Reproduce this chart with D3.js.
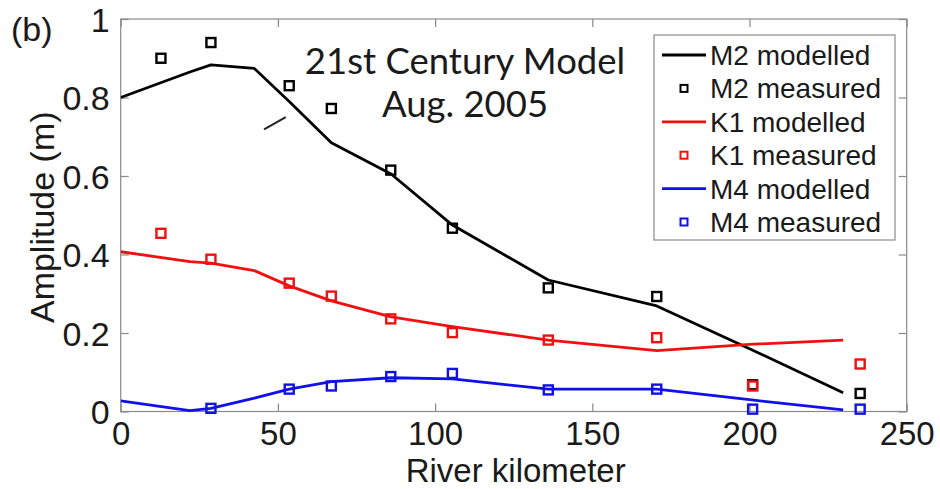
<!DOCTYPE html>
<html>
<head>
<meta charset="utf-8">
<script src="https://cdn.jsdelivr.net/npm/d3@7"></script>
<style>
  html, body { margin: 0; padding: 0; background: #fff; }
  svg { display: block; }
  text { font-family: "Liberation Sans", Arial, sans-serif; fill: #1a1a1a; }
</style>
</head>
<body>
<svg id="chart" width="940" height="489"></svg>
<script>
// River kilometre positions of the model output and of the gauges
const modelKm = [0, 22, 28.7, 42.5, 53.6, 67, 86, 105.5, 136, 170.5, 200, 229.8];
const gaugeKm = [12.8, 28.7, 53.6, 67, 85.9, 105.5, 136, 170.5, 201, 235.2];

// Tidal constituent amplitudes (m)
const m2Modelled = [0.800, 0.865, 0.883, 0.874, 0.790, 0.685, 0.605, 0.475, 0.335, 0.269, 0.160, 0.048];
const k1Modelled = [0.407, 0.382, 0.378, 0.359, 0.320, 0.282, 0.241, 0.216, 0.182, 0.155, 0.171, 0.182];
const m4Modelled = [0.027, 0.002, 0.008, 0.034, 0.057, 0.076, 0.086, 0.083, 0.057, 0.057, 0.030, 0.004];

const m2Measured = [0.900, 0.940, 0.830, 0.772, 0.615, 0.467, 0.315, 0.293, 0.068, 0.046];
const k1Measured = [0.454, 0.388, 0.327, 0.294, 0.236, 0.201, 0.182, 0.188, 0.065, 0.121];
const m4Measured = [null, 0.008, 0.057, 0.065, 0.089, 0.097, 0.055, 0.057, 0.006, 0.006];

const xTicks = [0, 50, 100, 150, 200, 250];
const yTicks = [0, 0.2, 0.4, 0.6, 0.8, 1];

const seriesInfo = [
  { name: "M2", color: "#000000", modelled: m2Modelled, measured: m2Measured },
  { name: "K1", color: "#f01010", modelled: k1Modelled, measured: k1Measured },
  { name: "M4", color: "#1010e8", modelled: m4Modelled, measured: m4Measured }
];

const svg = d3.select("#chart");
const plot = { left: 120.7, right: 906.7, top: 19, bottom: 411.5 };

const x = d3.scaleLinear().domain([0, 250]).range([plot.left, plot.right]);
const y = d3.scaleLinear().domain([0, 1]).range([plot.bottom, plot.top]);

const axisColor = "#8a8a8a";
const tickLen = 8;

// Plot box
svg.append("rect")
  .attr("x", plot.left).attr("y", plot.top)
  .attr("width", plot.right - plot.left).attr("height", plot.bottom - plot.top)
  .attr("fill", "none").attr("stroke", axisColor).attr("stroke-width", 1.2);

// Axes with inward ticks on all four sides
function styleAxis(g) {
  g.select(".domain").remove();
  g.selectAll(".tick line").attr("stroke", axisColor).attr("stroke-width", 1.2);
  g.selectAll(".tick text").attr("fill", "#1a1a1a")
    .style("font-family", "'Liberation Sans', Arial, sans-serif");
}

svg.append("g").attr("transform", `translate(0,${plot.bottom})`)
  .call(d3.axisBottom(x).tickValues(xTicks).tickFormat(d3.format("d"))
    .tickSizeInner(-tickLen).tickSizeOuter(0).tickPadding(0))
  .call(styleAxis)
  .call(g => g.selectAll(".tick text").style("font-size", "33px")
    .attr("dy", null).attr("y", 33.5));

svg.append("g").attr("transform", `translate(0,${plot.top})`)
  .call(d3.axisTop(x).tickValues(xTicks).tickFormat("").tickSizeInner(-tickLen).tickSizeOuter(0))
  .call(styleAxis);

svg.append("g").attr("transform", `translate(${plot.left},0)`)
  .call(d3.axisLeft(y).tickValues(yTicks).tickFormat(d => d === 0 || d === 1 ? d3.format("d")(d) : d3.format(".1f")(d))
    .tickSizeInner(-tickLen).tickSizeOuter(0).tickPadding(tickLen + 3))
  .call(styleAxis)
  .call(g => g.selectAll(".tick text").style("font-size", "34px").attr("dy", "0.36em"));

svg.append("g").attr("transform", `translate(${plot.right},0)`)
  .call(d3.axisRight(y).tickValues(yTicks).tickFormat("").tickSizeInner(-tickLen).tickSizeOuter(0))
  .call(styleAxis);

// Axis titles and panel label
svg.append("text")
  .attr("x", (plot.left + plot.right) / 2 + 2).attr("y", 482)
  .attr("text-anchor", "middle").style("font-size", "33px")
  .text("River kilometer");

svg.append("text")
  .attr("transform", `translate(54,${(plot.top + plot.bottom) / 2 + 2}) rotate(-90)`)
  .attr("text-anchor", "middle").style("font-size", "34px")
  .text("Amplitude (m)");

svg.append("text")
  .attr("x", 11).attr("y", 41).style("font-size", "34px")
  .text("(b)");

// Model run annotation
const note = svg.append("text")
  .attr("text-anchor", "middle")
  .style("font-family", "Lato, 'Open Sans', sans-serif")
  .style("font-size", "36.5px");
note.append("tspan").attr("x", 465).attr("y", 73.5).text("21st Century Model");
note.append("tspan").attr("x", 465).attr("y", 117).text("Aug. 2005");

// Small stray stroke near the M2 curve
svg.append("line")
  .attr("x1", x(45.6)).attr("y1", y(0.719))
  .attr("x2", x(52.5)).attr("y2", y(0.750))
  .attr("stroke", "#222").attr("stroke-width", 2);

svg.append("defs").append("clipPath").attr("id", "plotClip")
  .append("rect").attr("x", plot.left).attr("y", plot.top - 10)
  .attr("width", plot.right - plot.left).attr("height", plot.bottom - plot.top + 20);

const line = d3.line().x(d => x(d[0])).y(d => y(d[1]));
const sq = 9;

const layer = svg.append("g").attr("clip-path", "url(#plotClip)");

seriesInfo.forEach(s => {
  const pts = modelKm.map((k, i) => [k, s.modelled[i]]);
  layer.append("path")
    .attr("d", line(pts))
    .attr("fill", "none")
    .attr("stroke", s.color)
    .attr("stroke-width", 2.8)
    .attr("stroke-linejoin", "round");
});

seriesInfo.forEach(s => {
  const pts = gaugeKm.map((k, i) => [k, s.measured[i]]).filter(d => d[1] != null);
  layer.selectAll(null).data(pts).enter().append("rect")
    .attr("x", d => x(d[0]) - sq / 2)
    .attr("y", d => y(d[1]) - sq / 2)
    .attr("width", sq).attr("height", sq)
    .attr("fill", "none")
    .attr("stroke", s.color)
    .attr("stroke-width", 2.4);
});

// Legend
const legend = svg.append("g");
legend.append("rect")
  .attr("x", 654).attr("y", 35).attr("width", 241).attr("height", 205)
  .attr("fill", "#fff").attr("stroke", axisColor).attr("stroke-width", 1.2);

const legendRows = [];
seriesInfo.forEach(s => {
  legendRows.push({ label: `${s.name} modelled`, color: s.color, kind: "line" });
  legendRows.push({ label: `${s.name} measured`, color: s.color, kind: "marker" });
});

const rowY = d3.scaleLinear().domain([0, legendRows.length - 1]).range([55, 222]);

legendRows.forEach((r, i) => {
  const cy = rowY(i);
  if (r.kind === "line") {
    legend.append("line")
      .attr("x1", 662).attr("x2", 706).attr("y1", cy).attr("y2", cy)
      .attr("stroke", r.color).attr("stroke-width", 2.8);
  } else {
    legend.append("rect")
      .attr("x", 684 - 3.5).attr("y", cy - 3.5).attr("width", 7).attr("height", 7)
      .attr("fill", "none").attr("stroke", r.color).attr("stroke-width", 2);
  }
  legend.append("text")
    .attr("x", 710).attr("y", cy).attr("dy", "0.36em")
    .style("font-size", "28px")
    .text(r.label);
});
</script>
</body>
</html>
